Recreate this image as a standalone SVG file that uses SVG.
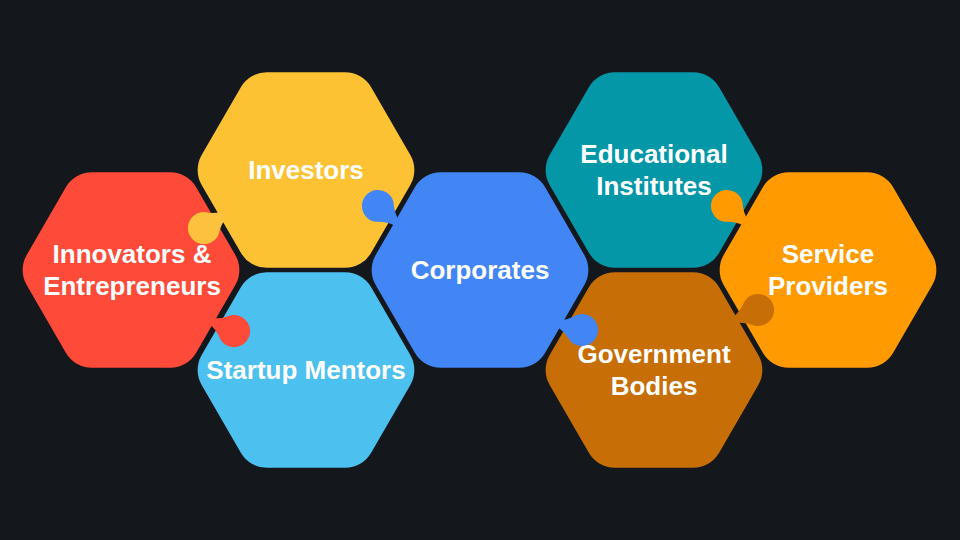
<svg xmlns="http://www.w3.org/2000/svg" width="960" height="540" viewBox="0 0 960 540">
<defs>
<style>
.lbl{font-family:"Liberation Sans",Arial,sans-serif;font-weight:bold;font-size:26px;fill:#ffffff;text-anchor:middle}
</style>
<path id="hex" d="M 104.34 15 L 65.16 82.86 A 30 30 0 0 1 39.18 97.86 L -39.18 97.86 A 30 30 0 0 1 -65.16 82.86 L -104.34 15 A 30 30 0 0 1 -104.34 -15 L -65.16 -82.86 A 30 30 0 0 1 -39.18 -97.86 L 39.18 -97.86 A 30 30 0 0 1 65.16 -82.86 L 104.34 -15 A 30 30 0 0 1 104.34 15 Z"/>
<path id="pin" d="M 9 -13.2 Q 16 -6 26 -3 Q 28.5 0 26 3 Q 16 6 9 13.2 A 16 16 0 1 1 9 -13.2 Z"/>
</defs>
<rect width="960" height="540" fill="#14171c"/>
<g id="innovators">
<use href="#hex" transform="translate(131,270)" fill="#fe4a38"/>
<text class="lbl" x="132" y="263">Innovators &amp;</text>
<text class="lbl" x="132" y="295">Entrepreneurs</text>
</g>
<g id="investors">
<use href="#hex" transform="translate(306,170)" fill="#fcc234"/>
<text class="lbl" x="306" y="179">Investors</text>
</g>
<g id="mentors">
<use href="#hex" transform="translate(306,370)" fill="#4cc0ef"/>
<text class="lbl" x="306" y="379">Startup Mentors</text>
</g>
<g id="corporates">
<use href="#hex" transform="translate(480,270)" fill="#4285f4"/>
<text class="lbl" x="480" y="279">Corporates</text>
</g>
<g id="educational">
<use href="#hex" transform="translate(654,170)" fill="#0397a8"/>
<text class="lbl" x="654" y="163">Educational</text>
<text class="lbl" x="654" y="195">Institutes</text>
</g>
<g id="government">
<use href="#hex" transform="translate(654,370)" fill="#c76e06"/>
<text class="lbl" x="654" y="363">Government</text>
<text class="lbl" x="654" y="395">Bodies</text>
</g>
<g id="service">
<use href="#hex" transform="translate(828,270)" fill="#ff9a00"/>
<text class="lbl" x="828" y="263">Service</text>
<text class="lbl" x="828" y="295">Providers</text>
</g>
<g id="connectors">
<use href="#pin" transform="translate(204,228) rotate(-33)" fill="#fcc23e"/>
<use href="#pin" transform="translate(234,331) rotate(-157)" fill="#fe4a38"/>
<use href="#pin" transform="translate(378,206) rotate(42)" fill="#4285f4"/>
<use href="#pin" transform="translate(582,330) rotate(-165)" fill="#4285f4"/>
<use href="#pin" transform="translate(727,206) rotate(42)" fill="#ff9a00"/>
<use href="#pin" transform="translate(758,310) rotate(157)" fill="#c76e06"/>
</g>
</svg>
